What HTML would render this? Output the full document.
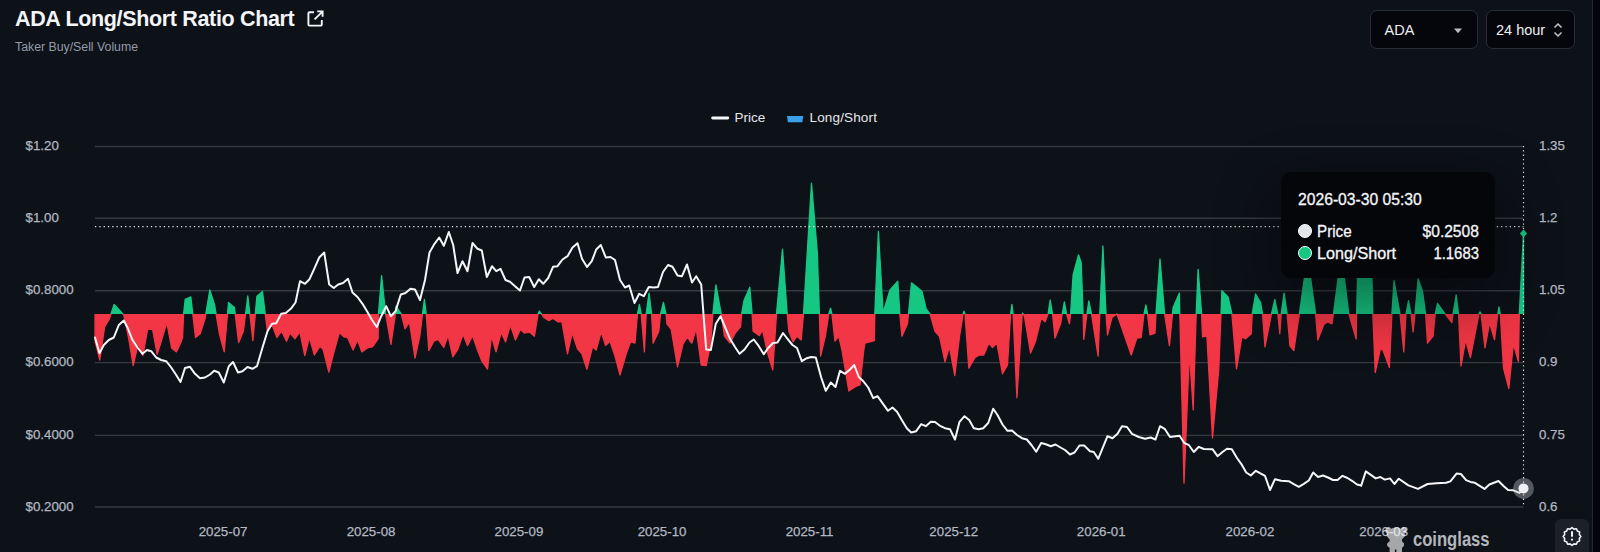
<!DOCTYPE html>
<html><head><meta charset="utf-8"><title>ADA Long/Short Ratio Chart</title>
<style>
*{margin:0;padding:0;box-sizing:border-box}
html,body{width:1600px;height:552px;overflow:hidden;background:#0d1118}
body{position:relative;font-family:"Liberation Sans",sans-serif;color:#e6e8ec}
.strip{position:absolute;left:1593px;top:0;width:7px;height:552px;background:#03050b}
.vline{position:absolute;left:1592px;top:0;width:1px;height:552px;background:#22262f}
.title{position:absolute;left:15px;top:5.5px;font-size:21.5px;font-weight:bold;color:#f4f5f7;white-space:nowrap;line-height:26px;letter-spacing:-0.34px}
.sub{position:absolute;left:15px;top:39px;font-size:12.3px;color:#949ba8;white-space:nowrap;line-height:16px}
.ext{position:absolute;left:306px;top:9px}
.sel{position:absolute;top:10px;height:39px;border:1px solid #2a2d36;border-radius:7px;background:#04060b;font-size:14.5px;color:#eceef2;line-height:39px;white-space:nowrap}
.yl,.yr,.xl{position:absolute;font-size:13.3px;line-height:16px;color:#b2b8c2;white-space:nowrap;-webkit-text-stroke:.25px #b2b8c2}
.yl{left:25.5px}
.yr{left:1539px}
.xl{top:523.5px;width:80px;text-align:center}
.leg{position:absolute;top:110.2px;font-size:13.5px;line-height:16px;color:#e6e8ec;white-space:nowrap}
svg{position:absolute;left:0;top:0}
.tip{position:absolute;left:1281px;top:172.2px;width:214px;height:106.2px;border-radius:10px;background:#04060a;box-shadow:0 22px 60px 4px rgba(0,0,0,.45)}
.tip div{position:absolute;white-space:nowrap;color:#f4f6f9;-webkit-text-stroke:.3px #f4f6f9}
.dot{position:absolute;width:14px;height:14px;border-radius:50%;border:1.5px solid #fff}
.wm{position:absolute;left:1412.5px;top:527px;font-size:20px;font-weight:bold;color:#b3b6bb;line-height:24px;transform-origin:0 0;transform:scaleX(.83);white-space:nowrap}
.gear{position:absolute;left:1555px;top:519px;width:34px;height:40px;border-radius:6px;background:#1d2127}
</style></head><body>
<div class="strip"></div><div class="vline"></div>
<div class="title">ADA Long/Short Ratio Chart</div>
<svg class="ext" width="19" height="19" viewBox="0 0 19 19" fill="none" stroke="#f4f5f7" stroke-width="1.9" style="position:absolute"><path d="M8 3.2H3.6a1.2 1.2 0 0 0-1.2 1.2v11a1.2 1.2 0 0 0 1.2 1.2h11a1.2 1.2 0 0 0 1.2-1.2V11"/><path d="M11.2 2.4h5.4v5.4M16.4 2.6L8.6 10.4"/></svg>
<div class="sub">Taker Buy/Sell Volume</div>
<div class="sel" style="left:1369.8px;width:107.800px;padding-left:13.8px">ADA<svg width="10" height="6" viewBox="0 0 10 6" style="left:82.500px;top:16.5px"><path d="M1 .6h8L5 5.200z" fill="#b9bcc2"/></svg></div>
<div class="sel" style="left:1486px;width:89px;padding-left:9px">24 hour<svg width="10" height="16" viewBox="0 0 10 16" fill="none" stroke="#c4c7cc" stroke-width="1.5" style="left:66px;top:11px"><path d="M1.5 5.5L5 2l3.5 3.5M1.5 10.5L5 14l3.5-3.5"/></svg></div>

<div class="leg" style="left:734.5px">Price</div>
<div class="leg" style="left:809.5px;letter-spacing:.15px">Long/Short</div>
<div class="yl" style="top:138.1px">$1.20</div><div class="yl" style="top:209.9px">$1.00</div><div class="yl" style="top:282.4px">$0.8000</div><div class="yl" style="top:354.2px">$0.6000</div><div class="yl" style="top:427.0px">$0.4000</div><div class="yl" style="top:498.6px">$0.2000</div><div class="yr" style="top:138.1px">1.35</div><div class="yr" style="top:209.9px">1.2</div><div class="yr" style="top:282.4px">1.05</div><div class="yr" style="top:354.2px">0.9</div><div class="yr" style="top:427.0px">0.75</div><div class="yr" style="top:498.6px">0.6</div><div class="xl" style="left:183.10px">2025-07</div><div class="xl" style="left:331.10px">2025-08</div><div class="xl" style="left:478.90px">2025-09</div><div class="xl" style="left:622.10px">2025-10</div><div class="xl" style="left:769.60px">2025-11</div><div class="xl" style="left:913.75px">2025-12</div><div class="xl" style="left:1061.25px">2026-01</div><div class="xl" style="left:1209.90px">2026-02</div><div class="xl" style="left:1343.75px">2026-03</div>

<svg width="1600" height="552" viewBox="0 0 1600 552">
<defs>
<clipPath id="up"><rect x="0" y="0" width="1600" height="314.0"/></clipPath>
<clipPath id="dn"><rect x="0" y="314.0" width="1600" height="300"/></clipPath>
</defs>
<g stroke="#363942" stroke-width="1.4"><line x1="95" x2="1523.5" y1="146.5" y2="146.5"/><line x1="95" x2="1523.5" y1="218.3" y2="218.3"/><line x1="95" x2="1523.5" y1="290.8" y2="290.8"/><line x1="95" x2="1523.5" y1="362.6" y2="362.6"/><line x1="95" x2="1523.5" y1="435.4" y2="435.4"/><line x1="95" x2="1523.5" y1="507.0" y2="507.0"/></g>
<polygon points="95.0,314.0 95.0,341.2 99.8,360.0 104.6,326.9 109.4,318.8 114.1,304.4 118.9,309.4 123.8,315.0 128.5,337.5 133.2,365.6 138.1,343.8 142.9,355.6 147.6,329.4 152.5,329.0 157.2,354.4 162.0,338.8 166.8,322.5 171.6,348.1 176.4,351.9 181.1,341.9 182.6,337.5 183.6,313.8 185.2,299.4 190.8,296.9 195.5,337.5 200.2,333.8 205.0,318.8 209.8,290.0 214.6,305.0 219.4,333.8 224.2,351.9 228.5,302.5 234.4,307.5 238.6,342.5 243.4,331.2 247.8,296.0 252.9,340.6 256.9,296.2 262.5,291.5 267.2,330.0 272.1,325.0 276.9,337.5 281.6,331.2 286.5,341.2 290.0,333.1 295.0,338.8 299.8,331.9 304.8,355.6 309.4,337.5 314.4,355.0 320.0,346.2 323.1,349.4 328.8,372.2 333.8,352.5 339.4,332.5 343.8,336.9 347.5,337.5 353.1,350.0 357.5,340.0 361.9,351.9 368.1,347.5 372.5,346.9 378.1,338.8 378.5,313.8 381.6,275.6 385.6,313.8 391.0,344.4 395.4,313.8 396.0,306.2 401.2,313.8 405.0,328.8 409.4,321.9 415.0,358.1 420.0,335.0 422.5,313.8 424.4,299.4 426.2,313.8 428.8,350.6 433.8,341.2 438.1,339.4 443.8,347.5 448.1,335.6 452.8,356.9 457.5,350.0 463.1,334.4 467.5,345.6 472.5,335.6 477.5,350.0 481.9,361.2 487.5,369.0 491.5,336.2 496.0,351.9 501.2,332.5 505.6,341.9 510.4,325.0 515.4,340.0 520.4,329.4 524.4,333.1 529.4,332.1 534.4,336.2 538.1,313.8 539.4,311.0 543.8,317.5 548.8,320.6 553.1,318.5 558.1,321.9 561.9,321.9 567.5,353.8 572.2,333.1 577.5,348.8 581.9,353.8 586.9,369.4 592.5,346.9 596.2,350.0 601.2,331.9 605.6,345.6 610.0,341.2 615.0,356.2 620.0,375.0 626.2,353.8 630.6,341.9 635.0,343.1 637.5,313.8 639.4,304.4 641.2,313.8 644.4,351.9 646.2,313.8 649.0,293.1 651.6,313.8 653.1,343.1 658.8,331.2 660.6,313.8 663.4,302.5 666.0,313.8 666.9,323.8 671.2,329.4 677.5,366.9 683.1,343.8 687.5,336.9 690.0,341.2 691.9,343.1 696.2,328.8 701.2,365.0 706.2,365.6 710.6,343.8 712.9,313.8 715.9,284.8 721.2,313.8 724.4,336.2 730.0,343.1 735.6,332.5 740.6,326.9 741.6,313.8 744.0,300.6 749.8,287.2 752.1,313.8 753.1,331.2 759.4,335.6 762.5,330.0 767.5,352.5 772.8,370.0 776.5,313.8 782.5,249.1 787.2,313.8 788.8,331.2 793.1,341.9 796.9,336.2 801.2,340.0 803.5,313.8 811.5,183.2 817.3,252.0 819.4,313.8 820.6,356.2 825.6,335.0 828.8,313.8 830.6,308.1 831.9,313.8 835.0,341.2 838.8,336.2 841.9,350.0 848.8,391.0 856.2,386.2 860.0,385.0 863.8,350.0 865.0,343.1 870.0,341.9 874.4,340.6 874.8,313.8 878.4,231.4 883.1,312.5 890.0,290.0 897.8,281.2 899.8,313.8 901.9,336.2 907.5,323.8 908.5,313.8 911.5,282.8 916.2,286.5 921.9,291.2 926.2,308.8 930.0,313.8 935.0,331.2 939.4,336.2 945.0,361.9 949.4,346.9 954.8,375.6 959.4,337.5 963.1,313.8 964.0,311.2 965.0,313.8 968.8,368.1 975.0,357.5 979.4,355.0 983.8,355.0 988.8,343.1 992.5,347.5 996.9,343.1 1002.5,373.8 1007.5,365.0 1010.6,313.8 1011.9,304.4 1013.1,313.8 1016.9,397.8 1022.2,314.0 1022.5,313.1 1024.4,316.2 1030.6,353.1 1035.6,341.2 1041.2,318.1 1045.0,321.9 1048.1,313.8 1050.2,300.0 1052.5,313.8 1055.0,338.1 1060.6,323.8 1062.2,313.8 1064.4,301.9 1066.5,313.8 1069.4,323.8 1070.6,313.8 1073.1,275.0 1078.5,254.8 1081.2,262.5 1083.1,313.8 1083.8,339.4 1086.9,313.8 1088.8,301.0 1091.5,313.8 1098.1,356.2 1099.8,313.8 1102.9,246.0 1106.0,313.8 1107.5,335.0 1111.9,317.5 1116.9,314.0 1121.2,326.2 1131.2,355.0 1136.9,338.1 1141.2,337.5 1144.0,313.8 1145.9,305.0 1147.5,313.8 1150.0,335.0 1155.0,333.1 1156.0,313.8 1160.0,259.0 1164.6,313.8 1169.4,345.6 1172.5,313.8 1173.1,307.5 1179.4,293.1 1179.8,313.8 1184.0,483.2 1189.4,352.5 1193.2,410.0 1196.2,313.8 1198.1,269.4 1201.6,313.8 1202.5,336.9 1206.9,336.2 1212.5,438.0 1218.8,369.0 1221.0,313.8 1221.9,290.6 1228.1,296.9 1231.9,313.8 1236.5,368.8 1241.9,336.9 1245.6,338.8 1251.2,333.8 1252.2,313.8 1255.6,294.0 1260.6,302.5 1262.5,313.8 1265.0,346.9 1271.5,313.8 1274.8,299.4 1277.8,313.8 1279.8,333.8 1281.2,313.8 1284.1,293.1 1287.1,313.8 1290.0,346.2 1293.8,350.6 1299.4,313.8 1304.4,278.1 1307.5,257.5 1310.6,278.1 1315.6,313.8 1317.8,340.0 1323.8,324.4 1327.5,321.9 1331.9,323.8 1333.5,313.8 1338.1,278.1 1341.2,257.5 1344.4,278.1 1348.8,313.8 1356.2,339.0 1356.6,313.8 1357.5,278.1 1358.1,262.5 1371.2,262.5 1371.9,278.1 1372.8,313.8 1375.2,372.5 1380.6,348.1 1383.1,350.6 1389.4,367.5 1391.9,313.8 1394.0,280.6 1400.0,313.8 1403.8,351.9 1406.0,313.8 1408.5,300.6 1411.0,313.8 1413.1,331.9 1415.0,313.8 1418.1,278.8 1422.5,291.2 1425.6,313.8 1427.5,343.1 1433.1,336.2 1435.2,313.8 1437.5,303.5 1445.0,313.8 1451.9,322.5 1453.1,313.8 1456.2,294.8 1458.5,313.8 1461.0,366.2 1465.6,340.0 1470.4,357.5 1479.0,313.8 1480.0,311.9 1481.0,313.8 1485.0,347.8 1489.5,322.9 1494.5,339.8 1497.8,314.0 1498.9,307.0 1500.3,314.0 1503.5,368.0 1508.8,388.6 1513.4,343.8 1518.4,361.7 1519.3,314.0 1523.5,233.4 1523.5,314.0" fill="#16c784" clip-path="url(#up)"/>
<polyline points="95.0,314.0 95.0,341.2 99.8,360.0 104.6,326.9 109.4,318.8 114.1,304.4 118.9,309.4 123.8,315.0 128.5,337.5 133.2,365.6 138.1,343.8 142.9,355.6 147.6,329.4 152.5,329.0 157.2,354.4 162.0,338.8 166.8,322.5 171.6,348.1 176.4,351.9 181.1,341.9 182.6,337.5 183.6,313.8 185.2,299.4 190.8,296.9 195.5,337.5 200.2,333.8 205.0,318.8 209.8,290.0 214.6,305.0 219.4,333.8 224.2,351.9 228.5,302.5 234.4,307.5 238.6,342.5 243.4,331.2 247.8,296.0 252.9,340.6 256.9,296.2 262.5,291.5 267.2,330.0 272.1,325.0 276.9,337.5 281.6,331.2 286.5,341.2 290.0,333.1 295.0,338.8 299.8,331.9 304.8,355.6 309.4,337.5 314.4,355.0 320.0,346.2 323.1,349.4 328.8,372.2 333.8,352.5 339.4,332.5 343.8,336.9 347.5,337.5 353.1,350.0 357.5,340.0 361.9,351.9 368.1,347.5 372.5,346.9 378.1,338.8 378.5,313.8 381.6,275.6 385.6,313.8 391.0,344.4 395.4,313.8 396.0,306.2 401.2,313.8 405.0,328.8 409.4,321.9 415.0,358.1 420.0,335.0 422.5,313.8 424.4,299.4 426.2,313.8 428.8,350.6 433.8,341.2 438.1,339.4 443.8,347.5 448.1,335.6 452.8,356.9 457.5,350.0 463.1,334.4 467.5,345.6 472.5,335.6 477.5,350.0 481.9,361.2 487.5,369.0 491.5,336.2 496.0,351.9 501.2,332.5 505.6,341.9 510.4,325.0 515.4,340.0 520.4,329.4 524.4,333.1 529.4,332.1 534.4,336.2 538.1,313.8 539.4,311.0 543.8,317.5 548.8,320.6 553.1,318.5 558.1,321.9 561.9,321.9 567.5,353.8 572.2,333.1 577.5,348.8 581.9,353.8 586.9,369.4 592.5,346.9 596.2,350.0 601.2,331.9 605.6,345.6 610.0,341.2 615.0,356.2 620.0,375.0 626.2,353.8 630.6,341.9 635.0,343.1 637.5,313.8 639.4,304.4 641.2,313.8 644.4,351.9 646.2,313.8 649.0,293.1 651.6,313.8 653.1,343.1 658.8,331.2 660.6,313.8 663.4,302.5 666.0,313.8 666.9,323.8 671.2,329.4 677.5,366.9 683.1,343.8 687.5,336.9 690.0,341.2 691.9,343.1 696.2,328.8 701.2,365.0 706.2,365.6 710.6,343.8 712.9,313.8 715.9,284.8 721.2,313.8 724.4,336.2 730.0,343.1 735.6,332.5 740.6,326.9 741.6,313.8 744.0,300.6 749.8,287.2 752.1,313.8 753.1,331.2 759.4,335.6 762.5,330.0 767.5,352.5 772.8,370.0 776.5,313.8 782.5,249.1 787.2,313.8 788.8,331.2 793.1,341.9 796.9,336.2 801.2,340.0 803.5,313.8 811.5,183.2 817.3,252.0 819.4,313.8 820.6,356.2 825.6,335.0 828.8,313.8 830.6,308.1 831.9,313.8 835.0,341.2 838.8,336.2 841.9,350.0 848.8,391.0 856.2,386.2 860.0,385.0 863.8,350.0 865.0,343.1 870.0,341.9 874.4,340.6 874.8,313.8 878.4,231.4 883.1,312.5 890.0,290.0 897.8,281.2 899.8,313.8 901.9,336.2 907.5,323.8 908.5,313.8 911.5,282.8 916.2,286.5 921.9,291.2 926.2,308.8 930.0,313.8 935.0,331.2 939.4,336.2 945.0,361.9 949.4,346.9 954.8,375.6 959.4,337.5 963.1,313.8 964.0,311.2 965.0,313.8 968.8,368.1 975.0,357.5 979.4,355.0 983.8,355.0 988.8,343.1 992.5,347.5 996.9,343.1 1002.5,373.8 1007.5,365.0 1010.6,313.8 1011.9,304.4 1013.1,313.8 1016.9,397.8 1022.2,314.0 1022.5,313.1 1024.4,316.2 1030.6,353.1 1035.6,341.2 1041.2,318.1 1045.0,321.9 1048.1,313.8 1050.2,300.0 1052.5,313.8 1055.0,338.1 1060.6,323.8 1062.2,313.8 1064.4,301.9 1066.5,313.8 1069.4,323.8 1070.6,313.8 1073.1,275.0 1078.5,254.8 1081.2,262.5 1083.1,313.8 1083.8,339.4 1086.9,313.8 1088.8,301.0 1091.5,313.8 1098.1,356.2 1099.8,313.8 1102.9,246.0 1106.0,313.8 1107.5,335.0 1111.9,317.5 1116.9,314.0 1121.2,326.2 1131.2,355.0 1136.9,338.1 1141.2,337.5 1144.0,313.8 1145.9,305.0 1147.5,313.8 1150.0,335.0 1155.0,333.1 1156.0,313.8 1160.0,259.0 1164.6,313.8 1169.4,345.6 1172.5,313.8 1173.1,307.5 1179.4,293.1 1179.8,313.8 1184.0,483.2 1189.4,352.5 1193.2,410.0 1196.2,313.8 1198.1,269.4 1201.6,313.8 1202.5,336.9 1206.9,336.2 1212.5,438.0 1218.8,369.0 1221.0,313.8 1221.9,290.6 1228.1,296.9 1231.9,313.8 1236.5,368.8 1241.9,336.9 1245.6,338.8 1251.2,333.8 1252.2,313.8 1255.6,294.0 1260.6,302.5 1262.5,313.8 1265.0,346.9 1271.5,313.8 1274.8,299.4 1277.8,313.8 1279.8,333.8 1281.2,313.8 1284.1,293.1 1287.1,313.8 1290.0,346.2 1293.8,350.6 1299.4,313.8 1304.4,278.1 1307.5,257.5 1310.6,278.1 1315.6,313.8 1317.8,340.0 1323.8,324.4 1327.5,321.9 1331.9,323.8 1333.5,313.8 1338.1,278.1 1341.2,257.5 1344.4,278.1 1348.8,313.8 1356.2,339.0 1356.6,313.8 1357.5,278.1 1358.1,262.5 1371.2,262.5 1371.9,278.1 1372.8,313.8 1375.2,372.5 1380.6,348.1 1383.1,350.6 1389.4,367.5 1391.9,313.8 1394.0,280.6 1400.0,313.8 1403.8,351.9 1406.0,313.8 1408.5,300.6 1411.0,313.8 1413.1,331.9 1415.0,313.8 1418.1,278.8 1422.5,291.2 1425.6,313.8 1427.5,343.1 1433.1,336.2 1435.2,313.8 1437.5,303.5 1445.0,313.8 1451.9,322.5 1453.1,313.8 1456.2,294.8 1458.5,313.8 1461.0,366.2 1465.6,340.0 1470.4,357.5 1479.0,313.8 1480.0,311.9 1481.0,313.8 1485.0,347.8 1489.5,322.9 1494.5,339.8 1497.8,314.0 1498.9,307.0 1500.3,314.0 1503.5,368.0 1508.8,388.6 1513.4,343.8 1518.4,361.7 1519.3,314.0 1523.5,233.4 1523.5,314.0" fill="none" stroke="#16c784" stroke-width="1.3" stroke-linejoin="round" clip-path="url(#up)"/>
<polygon points="95.0,314.0 95.0,341.2 99.8,360.0 104.6,326.9 109.4,318.8 114.1,304.4 118.9,309.4 123.8,315.0 128.5,337.5 133.2,365.6 138.1,343.8 142.9,355.6 147.6,329.4 152.5,329.0 157.2,354.4 162.0,338.8 166.8,322.5 171.6,348.1 176.4,351.9 181.1,341.9 182.6,337.5 183.6,313.8 185.2,299.4 190.8,296.9 195.5,337.5 200.2,333.8 205.0,318.8 209.8,290.0 214.6,305.0 219.4,333.8 224.2,351.9 228.5,302.5 234.4,307.5 238.6,342.5 243.4,331.2 247.8,296.0 252.9,340.6 256.9,296.2 262.5,291.5 267.2,330.0 272.1,325.0 276.9,337.5 281.6,331.2 286.5,341.2 290.0,333.1 295.0,338.8 299.8,331.9 304.8,355.6 309.4,337.5 314.4,355.0 320.0,346.2 323.1,349.4 328.8,372.2 333.8,352.5 339.4,332.5 343.8,336.9 347.5,337.5 353.1,350.0 357.5,340.0 361.9,351.9 368.1,347.5 372.5,346.9 378.1,338.8 378.5,313.8 381.6,275.6 385.6,313.8 391.0,344.4 395.4,313.8 396.0,306.2 401.2,313.8 405.0,328.8 409.4,321.9 415.0,358.1 420.0,335.0 422.5,313.8 424.4,299.4 426.2,313.8 428.8,350.6 433.8,341.2 438.1,339.4 443.8,347.5 448.1,335.6 452.8,356.9 457.5,350.0 463.1,334.4 467.5,345.6 472.5,335.6 477.5,350.0 481.9,361.2 487.5,369.0 491.5,336.2 496.0,351.9 501.2,332.5 505.6,341.9 510.4,325.0 515.4,340.0 520.4,329.4 524.4,333.1 529.4,332.1 534.4,336.2 538.1,313.8 539.4,311.0 543.8,317.5 548.8,320.6 553.1,318.5 558.1,321.9 561.9,321.9 567.5,353.8 572.2,333.1 577.5,348.8 581.9,353.8 586.9,369.4 592.5,346.9 596.2,350.0 601.2,331.9 605.6,345.6 610.0,341.2 615.0,356.2 620.0,375.0 626.2,353.8 630.6,341.9 635.0,343.1 637.5,313.8 639.4,304.4 641.2,313.8 644.4,351.9 646.2,313.8 649.0,293.1 651.6,313.8 653.1,343.1 658.8,331.2 660.6,313.8 663.4,302.5 666.0,313.8 666.9,323.8 671.2,329.4 677.5,366.9 683.1,343.8 687.5,336.9 690.0,341.2 691.9,343.1 696.2,328.8 701.2,365.0 706.2,365.6 710.6,343.8 712.9,313.8 715.9,284.8 721.2,313.8 724.4,336.2 730.0,343.1 735.6,332.5 740.6,326.9 741.6,313.8 744.0,300.6 749.8,287.2 752.1,313.8 753.1,331.2 759.4,335.6 762.5,330.0 767.5,352.5 772.8,370.0 776.5,313.8 782.5,249.1 787.2,313.8 788.8,331.2 793.1,341.9 796.9,336.2 801.2,340.0 803.5,313.8 811.5,183.2 817.3,252.0 819.4,313.8 820.6,356.2 825.6,335.0 828.8,313.8 830.6,308.1 831.9,313.8 835.0,341.2 838.8,336.2 841.9,350.0 848.8,391.0 856.2,386.2 860.0,385.0 863.8,350.0 865.0,343.1 870.0,341.9 874.4,340.6 874.8,313.8 878.4,231.4 883.1,312.5 890.0,290.0 897.8,281.2 899.8,313.8 901.9,336.2 907.5,323.8 908.5,313.8 911.5,282.8 916.2,286.5 921.9,291.2 926.2,308.8 930.0,313.8 935.0,331.2 939.4,336.2 945.0,361.9 949.4,346.9 954.8,375.6 959.4,337.5 963.1,313.8 964.0,311.2 965.0,313.8 968.8,368.1 975.0,357.5 979.4,355.0 983.8,355.0 988.8,343.1 992.5,347.5 996.9,343.1 1002.5,373.8 1007.5,365.0 1010.6,313.8 1011.9,304.4 1013.1,313.8 1016.9,397.8 1022.2,314.0 1022.5,313.1 1024.4,316.2 1030.6,353.1 1035.6,341.2 1041.2,318.1 1045.0,321.9 1048.1,313.8 1050.2,300.0 1052.5,313.8 1055.0,338.1 1060.6,323.8 1062.2,313.8 1064.4,301.9 1066.5,313.8 1069.4,323.8 1070.6,313.8 1073.1,275.0 1078.5,254.8 1081.2,262.5 1083.1,313.8 1083.8,339.4 1086.9,313.8 1088.8,301.0 1091.5,313.8 1098.1,356.2 1099.8,313.8 1102.9,246.0 1106.0,313.8 1107.5,335.0 1111.9,317.5 1116.9,314.0 1121.2,326.2 1131.2,355.0 1136.9,338.1 1141.2,337.5 1144.0,313.8 1145.9,305.0 1147.5,313.8 1150.0,335.0 1155.0,333.1 1156.0,313.8 1160.0,259.0 1164.6,313.8 1169.4,345.6 1172.5,313.8 1173.1,307.5 1179.4,293.1 1179.8,313.8 1184.0,483.2 1189.4,352.5 1193.2,410.0 1196.2,313.8 1198.1,269.4 1201.6,313.8 1202.5,336.9 1206.9,336.2 1212.5,438.0 1218.8,369.0 1221.0,313.8 1221.9,290.6 1228.1,296.9 1231.9,313.8 1236.5,368.8 1241.9,336.9 1245.6,338.8 1251.2,333.8 1252.2,313.8 1255.6,294.0 1260.6,302.5 1262.5,313.8 1265.0,346.9 1271.5,313.8 1274.8,299.4 1277.8,313.8 1279.8,333.8 1281.2,313.8 1284.1,293.1 1287.1,313.8 1290.0,346.2 1293.8,350.6 1299.4,313.8 1304.4,278.1 1307.5,257.5 1310.6,278.1 1315.6,313.8 1317.8,340.0 1323.8,324.4 1327.5,321.9 1331.9,323.8 1333.5,313.8 1338.1,278.1 1341.2,257.5 1344.4,278.1 1348.8,313.8 1356.2,339.0 1356.6,313.8 1357.5,278.1 1358.1,262.5 1371.2,262.5 1371.9,278.1 1372.8,313.8 1375.2,372.5 1380.6,348.1 1383.1,350.6 1389.4,367.5 1391.9,313.8 1394.0,280.6 1400.0,313.8 1403.8,351.9 1406.0,313.8 1408.5,300.6 1411.0,313.8 1413.1,331.9 1415.0,313.8 1418.1,278.8 1422.5,291.2 1425.6,313.8 1427.5,343.1 1433.1,336.2 1435.2,313.8 1437.5,303.5 1445.0,313.8 1451.9,322.5 1453.1,313.8 1456.2,294.8 1458.5,313.8 1461.0,366.2 1465.6,340.0 1470.4,357.5 1479.0,313.8 1480.0,311.9 1481.0,313.8 1485.0,347.8 1489.5,322.9 1494.5,339.8 1497.8,314.0 1498.9,307.0 1500.3,314.0 1503.5,368.0 1508.8,388.6 1513.4,343.8 1518.4,361.7 1519.3,314.0 1523.5,233.4 1523.5,314.0" fill="#f23645" clip-path="url(#dn)"/>
<polyline points="95.0,314.0 95.0,341.2 99.8,360.0 104.6,326.9 109.4,318.8 114.1,304.4 118.9,309.4 123.8,315.0 128.5,337.5 133.2,365.6 138.1,343.8 142.9,355.6 147.6,329.4 152.5,329.0 157.2,354.4 162.0,338.8 166.8,322.5 171.6,348.1 176.4,351.9 181.1,341.9 182.6,337.5 183.6,313.8 185.2,299.4 190.8,296.9 195.5,337.5 200.2,333.8 205.0,318.8 209.8,290.0 214.6,305.0 219.4,333.8 224.2,351.9 228.5,302.5 234.4,307.5 238.6,342.5 243.4,331.2 247.8,296.0 252.9,340.6 256.9,296.2 262.5,291.5 267.2,330.0 272.1,325.0 276.9,337.5 281.6,331.2 286.5,341.2 290.0,333.1 295.0,338.8 299.8,331.9 304.8,355.6 309.4,337.5 314.4,355.0 320.0,346.2 323.1,349.4 328.8,372.2 333.8,352.5 339.4,332.5 343.8,336.9 347.5,337.5 353.1,350.0 357.5,340.0 361.9,351.9 368.1,347.5 372.5,346.9 378.1,338.8 378.5,313.8 381.6,275.6 385.6,313.8 391.0,344.4 395.4,313.8 396.0,306.2 401.2,313.8 405.0,328.8 409.4,321.9 415.0,358.1 420.0,335.0 422.5,313.8 424.4,299.4 426.2,313.8 428.8,350.6 433.8,341.2 438.1,339.4 443.8,347.5 448.1,335.6 452.8,356.9 457.5,350.0 463.1,334.4 467.5,345.6 472.5,335.6 477.5,350.0 481.9,361.2 487.5,369.0 491.5,336.2 496.0,351.9 501.2,332.5 505.6,341.9 510.4,325.0 515.4,340.0 520.4,329.4 524.4,333.1 529.4,332.1 534.4,336.2 538.1,313.8 539.4,311.0 543.8,317.5 548.8,320.6 553.1,318.5 558.1,321.9 561.9,321.9 567.5,353.8 572.2,333.1 577.5,348.8 581.9,353.8 586.9,369.4 592.5,346.9 596.2,350.0 601.2,331.9 605.6,345.6 610.0,341.2 615.0,356.2 620.0,375.0 626.2,353.8 630.6,341.9 635.0,343.1 637.5,313.8 639.4,304.4 641.2,313.8 644.4,351.9 646.2,313.8 649.0,293.1 651.6,313.8 653.1,343.1 658.8,331.2 660.6,313.8 663.4,302.5 666.0,313.8 666.9,323.8 671.2,329.4 677.5,366.9 683.1,343.8 687.5,336.9 690.0,341.2 691.9,343.1 696.2,328.8 701.2,365.0 706.2,365.6 710.6,343.8 712.9,313.8 715.9,284.8 721.2,313.8 724.4,336.2 730.0,343.1 735.6,332.5 740.6,326.9 741.6,313.8 744.0,300.6 749.8,287.2 752.1,313.8 753.1,331.2 759.4,335.6 762.5,330.0 767.5,352.5 772.8,370.0 776.5,313.8 782.5,249.1 787.2,313.8 788.8,331.2 793.1,341.9 796.9,336.2 801.2,340.0 803.5,313.8 811.5,183.2 817.3,252.0 819.4,313.8 820.6,356.2 825.6,335.0 828.8,313.8 830.6,308.1 831.9,313.8 835.0,341.2 838.8,336.2 841.9,350.0 848.8,391.0 856.2,386.2 860.0,385.0 863.8,350.0 865.0,343.1 870.0,341.9 874.4,340.6 874.8,313.8 878.4,231.4 883.1,312.5 890.0,290.0 897.8,281.2 899.8,313.8 901.9,336.2 907.5,323.8 908.5,313.8 911.5,282.8 916.2,286.5 921.9,291.2 926.2,308.8 930.0,313.8 935.0,331.2 939.4,336.2 945.0,361.9 949.4,346.9 954.8,375.6 959.4,337.5 963.1,313.8 964.0,311.2 965.0,313.8 968.8,368.1 975.0,357.5 979.4,355.0 983.8,355.0 988.8,343.1 992.5,347.5 996.9,343.1 1002.5,373.8 1007.5,365.0 1010.6,313.8 1011.9,304.4 1013.1,313.8 1016.9,397.8 1022.2,314.0 1022.5,313.1 1024.4,316.2 1030.6,353.1 1035.6,341.2 1041.2,318.1 1045.0,321.9 1048.1,313.8 1050.2,300.0 1052.5,313.8 1055.0,338.1 1060.6,323.8 1062.2,313.8 1064.4,301.9 1066.5,313.8 1069.4,323.8 1070.6,313.8 1073.1,275.0 1078.5,254.8 1081.2,262.5 1083.1,313.8 1083.8,339.4 1086.9,313.8 1088.8,301.0 1091.5,313.8 1098.1,356.2 1099.8,313.8 1102.9,246.0 1106.0,313.8 1107.5,335.0 1111.9,317.5 1116.9,314.0 1121.2,326.2 1131.2,355.0 1136.9,338.1 1141.2,337.5 1144.0,313.8 1145.9,305.0 1147.5,313.8 1150.0,335.0 1155.0,333.1 1156.0,313.8 1160.0,259.0 1164.6,313.8 1169.4,345.6 1172.5,313.8 1173.1,307.5 1179.4,293.1 1179.8,313.8 1184.0,483.2 1189.4,352.5 1193.2,410.0 1196.2,313.8 1198.1,269.4 1201.6,313.8 1202.5,336.9 1206.9,336.2 1212.5,438.0 1218.8,369.0 1221.0,313.8 1221.9,290.6 1228.1,296.9 1231.9,313.8 1236.5,368.8 1241.9,336.9 1245.6,338.8 1251.2,333.8 1252.2,313.8 1255.6,294.0 1260.6,302.5 1262.5,313.8 1265.0,346.9 1271.5,313.8 1274.8,299.4 1277.8,313.8 1279.8,333.8 1281.2,313.8 1284.1,293.1 1287.1,313.8 1290.0,346.2 1293.8,350.6 1299.4,313.8 1304.4,278.1 1307.5,257.5 1310.6,278.1 1315.6,313.8 1317.8,340.0 1323.8,324.4 1327.5,321.9 1331.9,323.8 1333.5,313.8 1338.1,278.1 1341.2,257.5 1344.4,278.1 1348.8,313.8 1356.2,339.0 1356.6,313.8 1357.5,278.1 1358.1,262.5 1371.2,262.5 1371.9,278.1 1372.8,313.8 1375.2,372.5 1380.6,348.1 1383.1,350.6 1389.4,367.5 1391.9,313.8 1394.0,280.6 1400.0,313.8 1403.8,351.9 1406.0,313.8 1408.5,300.6 1411.0,313.8 1413.1,331.9 1415.0,313.8 1418.1,278.8 1422.5,291.2 1425.6,313.8 1427.5,343.1 1433.1,336.2 1435.2,313.8 1437.5,303.5 1445.0,313.8 1451.9,322.5 1453.1,313.8 1456.2,294.8 1458.5,313.8 1461.0,366.2 1465.6,340.0 1470.4,357.5 1479.0,313.8 1480.0,311.9 1481.0,313.8 1485.0,347.8 1489.5,322.9 1494.5,339.8 1497.8,314.0 1498.9,307.0 1500.3,314.0 1503.5,368.0 1508.8,388.6 1513.4,343.8 1518.4,361.7 1519.3,314.0 1523.5,233.4 1523.5,314.0" fill="none" stroke="#f23645" stroke-width="1.3" stroke-linejoin="round" clip-path="url(#dn)"/>
<polyline points="95.0,337.5 99.5,353.2 103.8,345.0 108.8,340.0 113.8,337.5 118.8,325.0 123.8,320.5 127.5,327.5 132.5,340.0 137.5,347.5 142.5,353.8 147.0,350.0 151.2,351.2 156.2,357.5 161.2,360.0 166.2,361.2 171.2,367.5 176.2,375.0 180.5,382.0 185.0,368.0 190.0,366.8 195.0,373.8 200.0,378.2 205.0,377.5 210.0,374.5 214.2,370.8 218.8,372.5 223.8,382.5 228.8,366.2 233.0,362.0 238.0,372.5 242.5,371.2 247.5,367.0 252.5,368.8 257.0,366.2 262.5,347.5 267.5,331.2 272.0,323.8 276.2,323.2 281.2,313.8 285.8,313.0 290.8,308.8 295.5,302.5 300.0,281.2 305.0,283.8 309.5,279.2 314.2,268.8 319.2,257.5 324.2,252.5 329.2,284.5 333.8,288.0 338.2,284.5 343.0,283.0 348.0,278.8 352.5,292.5 357.5,297.0 362.5,303.8 367.0,311.2 372.0,320.0 376.8,327.0 381.2,316.2 386.2,306.2 390.8,316.2 395.5,311.2 400.8,294.5 405.5,293.0 410.5,288.8 415.0,289.5 420.0,300.0 425.0,280.0 429.5,252.5 434.5,243.8 439.2,237.5 443.8,245.8 448.8,232.0 453.2,245.0 457.5,273.0 462.5,261.2 467.5,271.2 472.5,243.0 477.5,248.8 481.8,250.5 486.8,277.0 492.0,266.2 496.2,271.2 500.5,268.8 505.5,280.0 510.0,281.8 515.0,286.2 520.0,290.5 524.5,277.5 529.2,277.0 534.2,287.0 538.8,279.2 543.2,283.8 548.2,278.0 553.0,266.8 557.5,266.2 562.5,259.5 567.5,256.2 572.5,247.5 577.5,243.2 582.0,258.8 587.0,267.0 591.8,261.2 596.2,249.5 600.8,245.0 605.8,257.5 610.5,257.0 615.0,260.0 620.0,280.0 625.0,287.5 629.2,285.5 634.5,303.0 639.2,293.8 643.8,296.2 648.8,287.0 653.8,287.5 658.0,287.0 663.0,272.0 668.0,265.0 672.5,266.8 677.5,275.5 682.0,276.2 687.0,264.5 692.0,282.5 696.2,276.2 701.2,284.5 706.2,349.5 710.8,350.0 715.8,323.8 720.5,316.2 725.0,327.0 730.0,338.8 735.0,347.0 739.5,353.8 744.5,349.5 749.5,342.5 753.8,339.5 758.8,346.2 763.8,354.2 768.2,348.0 773.0,343.0 777.5,342.5 783.0,333.0 787.5,338.8 792.5,345.0 797.0,348.0 801.8,361.2 806.8,358.2 811.2,357.0 815.8,357.5 821.2,377.5 825.8,390.8 830.8,382.5 835.5,387.0 840.0,370.8 845.0,373.8 850.0,369.5 854.2,365.0 858.8,377.0 863.8,381.8 868.2,387.5 873.2,398.2 877.5,396.2 882.5,403.2 888.0,410.8 892.5,407.5 897.0,411.8 901.8,420.0 906.8,428.2 911.2,432.5 916.2,431.2 921.2,424.2 925.8,426.2 930.8,421.8 935.0,422.0 940.0,425.8 945.0,428.2 950.0,429.2 955.0,439.5 959.5,421.8 964.5,416.2 969.2,420.0 973.8,428.2 978.8,429.2 983.2,428.2 988.2,423.0 993.2,408.8 997.5,415.0 1002.5,424.5 1007.5,430.8 1012.0,430.5 1017.0,435.0 1022.0,438.2 1026.8,439.5 1031.8,445.5 1036.2,451.8 1041.2,443.0 1045.8,444.2 1050.8,446.2 1055.5,444.5 1060.5,447.5 1065.0,450.0 1070.0,454.5 1074.5,452.5 1079.5,445.5 1084.2,445.5 1090.0,451.2 1093.8,452.0 1098.2,458.8 1107.5,436.2 1112.5,438.2 1117.5,433.8 1122.0,426.2 1127.0,427.0 1132.0,433.8 1138.8,437.0 1145.0,438.8 1150.8,437.5 1155.5,439.5 1160.0,426.2 1165.0,429.2 1170.0,437.0 1179.5,435.8 1184.5,443.2 1188.8,445.0 1193.8,452.0 1198.8,446.8 1203.8,449.0 1212.5,449.2 1217.5,456.2 1222.5,452.0 1227.0,448.8 1231.8,449.2 1237.0,458.0 1241.2,463.8 1246.2,472.5 1250.8,475.5 1255.8,470.8 1260.0,473.2 1265.0,475.8 1270.0,490.0 1275.0,479.2 1281.2,480.8 1288.8,481.2 1293.8,484.2 1298.8,486.8 1303.8,483.8 1308.8,480.5 1313.2,472.5 1318.0,477.0 1323.0,475.5 1328.0,477.5 1333.0,480.0 1337.5,480.0 1342.5,475.8 1347.5,478.0 1352.0,480.8 1357.0,484.5 1361.2,485.5 1361.1,485.9 1365.8,471.4 1370.8,474.9 1375.7,478.4 1380.4,477.0 1384.8,479.6 1390.0,478.4 1394.4,484.0 1398.8,478.7 1408.4,485.4 1418.0,488.9 1427.6,484.0 1436.4,483.3 1446.0,482.8 1450.4,481.4 1456.5,473.6 1460.9,474.0 1466.1,480.1 1470.5,481.9 1474.9,482.8 1484.5,488.9 1489.4,484.5 1498.5,481.0 1503.8,486.2 1508.1,490.1 1513.4,490.3 1519.5,492.9 1523.5,488.4" fill="none" stroke="#f5f6f8" stroke-width="2" stroke-linejoin="round" stroke-linecap="round"/>
<line x1="95" x2="1523.5" y1="226.6" y2="226.6" stroke="#dfe1e5" stroke-width="1.15" stroke-dasharray="1.3 3.0"/>
<line x1="1523.5" x2="1523.5" y1="146" y2="507" stroke="#dfe1e5" stroke-width="1.15" stroke-dasharray="1.3 3.0"/>
<path d="M1523.5 229.4l3.6 4-3.6 4-3.6-4z" fill="#16c784"/>
<circle cx="1523.5" cy="488.4" r="10.5" fill="#c9ccd2" fill-opacity=".38"/>
<circle cx="1523.5" cy="488.4" r="5" fill="#eef0f3"/>
<line x1="712.6" x2="727.8" y1="118" y2="118" stroke="#f5f6f8" stroke-width="2.8" stroke-linecap="round"/>
<path d="M787 116h16.2l-.9 6.3h-14.4z" fill="#3aa0e8"/>
</svg>
<svg width="1600" height="552" viewBox="0 0 1600 552" style="pointer-events:none"><defs><clipPath id="lg"><path d="M0 0H1600V552H1396.400V549.500H1394.900V552H0z"/></clipPath></defs><g fill="#fff" opacity=".63" clip-path="url(#lg)"><path d="M1385.200 530.400a3.200 3.200 0 0 1 6-1.600a9 9 0 0 1 9.600 0a3.200 3.200 0 0 1 6 1.600a3.200 3.200 0 0 1-2.300 3.100a8.600 5.600 0 0 1-2.500 5.700v2.200a8.400 3.900 0 0 1 1.900 3.200a8.400 3.900 0 0 1-1.900 3.200v4.200h-12.400v-4.200a8.400 3.900 0 0 1-2.500-3.200a8.400 3.900 0 0 1 2.500-3.200v-2.200a8.600 5.600 0 0 1-2.500-5.700a3.200 3.200 0 0 1-1.900-3.100z"/></g></svg>
<div class="wm">coinglass</div>
<div class="gear"><svg width="34" height="34" viewBox="0 0 34 34" fill="none" stroke="#f1f2f4" stroke-width="1.5" stroke-linejoin="round"><path d="M17 7.300l2.400 1.900 3-.4 1.100 2.800 2.800 1.200-.4 3 1.900 2.400-1.900 2.400.4 3-2.800 1.200-1.100 2.800-3-.4-2.400 1.900-2.400-1.900-3 .4-1.100-2.800-2.800-1.200.4-3-1.900-2.400 1.900-2.400-.4-3 2.800-1.200 1.100-2.800 3 .4z" transform="translate(17,16.500) scale(.82) translate(-17,-17)" stroke-width="1.900"/><path d="M17 12.300v5.400" stroke-width="2"/><path d="M17 19.800v1.700" stroke-width="2"/></svg></div>

<div class="tip">
<div style="left:17px;top:18px;font-size:16px;line-height:20px;transform-origin:0 0;transform:scaleX(.98)">2026-03-30 05:30</div>
<span class="dot" style="left:16.5px;top:52.2px;background:#e3e6ea"></span>
<div style="left:36px;top:50px;font-size:16px;line-height:20px;transform-origin:0 0;transform:scaleX(.95)">Price</div>
<div style="right:16px;top:50px;font-size:16px;line-height:20px;transform-origin:100% 0;transform:scaleX(.973)">$0.2508</div>
<span class="dot" style="left:16.5px;top:74.2px;background:#16c784"></span>
<div style="left:36px;top:72px;font-size:16px;line-height:20px;transform-origin:0 0;transform:scaleX(1.01)">Long/Short</div>
<div style="right:16px;top:72px;font-size:16px;line-height:20px;transform-origin:100% 0;transform:scaleX(.93)">1.1683</div>
</div>
</body></html>
